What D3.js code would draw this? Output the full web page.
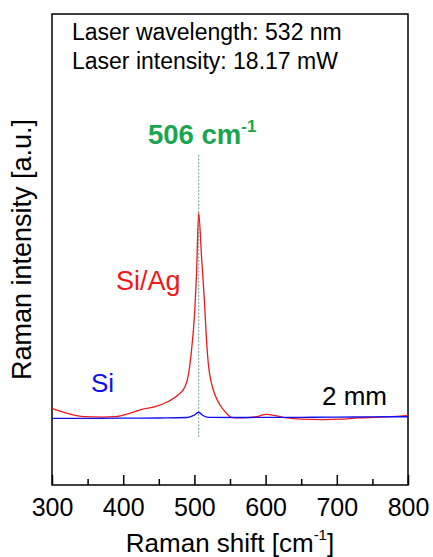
<!DOCTYPE html>
<html>
<head>
<meta charset="utf-8">
<script src="https://cdn.jsdelivr.net/npm/d3@7"></script>
<style>
  body { margin: 0; background: #fff; }
  svg { font-family: "Liberation Sans", Arial, sans-serif; }
</style>
</head>
<body>
<svg id="chart" width="433" height="557"></svg>
<script>
// Si/Ag spectrum (Raman shift, relative intensity)
var siAgShift = [300, 318, 346, 370, 388, 412, 426, 445, 463, 477, 487, 492, 496, 500, 503, 506,
  510, 514, 517, 520, 524, 529, 536, 545, 552, 564, 585, 601, 615, 630, 650, 680, 705, 730, 751, 775, 800];
var siAgValue = [0.047, 0.026, 0.006, 0.004, 0.006, 0.026, 0.042, 0.055, 0.080, 0.112, 0.153, 0.218, 0.332, 0.494, 0.706, 1.0,
  0.787, 0.576, 0.380, 0.250, 0.169, 0.112, 0.063, 0.023, 0.003, 0.0, 0.005, 0.017, 0.010, 0.0, -0.006, -0.008, -0.006, 0.0, 0.003, 0.006, 0.011];

// bare Si spectrum
var siShift = [300, 350, 400, 450, 490, 499, 506, 512, 520, 560, 600, 650, 700, 750, 800];
var siValue = [-0.002, -0.002, -0.001, 0.0, 0.002, 0.012, 0.028, 0.012, 0.003, 0.002, 0.003, 0.003, 0.004, 0.005, 0.006];

var xTicks = [300, 400, 500, 600, 700, 800];
var xMinorTicks = [350, 450, 550, 650, 750];
var peakShift = 506;
var peakLineRange = [-0.098, 1.283];

var svg = d3.select('#chart');
var margin = {top: 14, right: 25, bottom: 72, left: 52};
var width = 433 - margin.left - margin.right;
var height = 557 - margin.top - margin.bottom;

var g = svg.append('g').attr('transform', 'translate(' + margin.left + ',' + margin.top + ')');

var x = d3.scaleLinear().domain([300, 800]).range([0, width]);
var y = d3.scaleLinear().domain([-0.327, 1.97]).range([height, 0]);

// minor ticks
g.append('g')
  .attr('transform', 'translate(0,' + height + ')')
  .call(d3.axisBottom(x).tickValues(xMinorTicks).tickSize(-6).tickFormat(''))
  .call(function(a) { a.select('.domain').remove(); })
  .selectAll('line').attr('stroke-width', 1.5);

// major ticks + labels
var xAxis = g.append('g')
  .attr('transform', 'translate(0,' + height + ')')
  .call(d3.axisBottom(x).tickValues(xTicks).tickSize(-10).tickPadding(13).tickFormat(d3.format('d')));
xAxis.select('.domain').remove();
xAxis.selectAll('line').attr('stroke-width', 1.5);
xAxis.selectAll('text').attr('font-size', 25).attr('fill', '#000')
  .attr('font-family', '"Liberation Sans", Arial, sans-serif');

// frame
g.append('rect')
  .attr('width', width).attr('height', height)
  .attr('fill', 'none').attr('stroke', '#000').attr('stroke-width', 1.5);

// dashed marker at peak
g.append('line')
  .attr('x1', x(peakShift)).attr('x2', x(peakShift))
  .attr('y1', y(peakLineRange[1])).attr('y2', y(peakLineRange[0]))
  .attr('stroke', '#4a8a80').attr('stroke-width', 0.8).attr('stroke-dasharray', '2,1.5');

var line = d3.line()
  .x(function(d) { return x(d[0]); })
  .y(function(d) { return y(d[1]); })
  .curve(d3.curveMonotoneX);

var siData = d3.zip(siShift, siValue);
var siAgData = d3.zip(siAgShift, siAgValue);

g.append('path').datum(siAgData)
  .attr('d', line).attr('fill', 'none').attr('stroke', '#f01818').attr('stroke-width', 1.3);
g.append('path').datum(siData)
  .attr('d', line).attr('fill', 'none').attr('stroke', '#1010f0').attr('stroke-width', 1.4);

// annotations
svg.append('text').attr('x', 72).attr('y', 40).attr('font-size', 23).text('Laser wavelength: 532 nm');
svg.append('text').attr('x', 72).attr('y', 69).attr('font-size', 23).text('Laser intensity: 18.17 mW');

var peakLabel = svg.append('text').attr('x', 148).attr('y', 144)
  .attr('font-size', 27.5).attr('font-weight', 'bold').attr('fill', '#1aa650');
peakLabel.append('tspan').text('506 cm');
peakLabel.append('tspan').attr('font-size', 17).attr('dy', -12).text('-1');

svg.append('text').attr('x', 116).attr('y', 290).attr('font-size', 27).attr('fill', '#f01818').text('Si/Ag');
svg.append('text').attr('x', 91).attr('y', 392).attr('font-size', 26).attr('fill', '#1010f0').text('Si');
svg.append('text').attr('x', 322).attr('y', 405).attr('font-size', 26).attr('fill', '#000').text('2 mm');

// axis titles
var xLabel = svg.append('text')
  .attr('x', margin.left + width / 2).attr('y', 552)
  .attr('text-anchor', 'middle').attr('font-size', 26);
xLabel.append('tspan').text('Raman shift [cm');
xLabel.append('tspan').attr('font-size', 15).attr('dy', -12).text('-1');
xLabel.append('tspan').attr('dy', 12).text(']');

svg.append('text')
  .attr('transform', 'translate(31,' + (margin.top + height / 2) + ') rotate(-90)')
  .attr('text-anchor', 'middle').attr('font-size', 27)
  .text('Raman intensity [a.u.]');
</script>
</body>
</html>
